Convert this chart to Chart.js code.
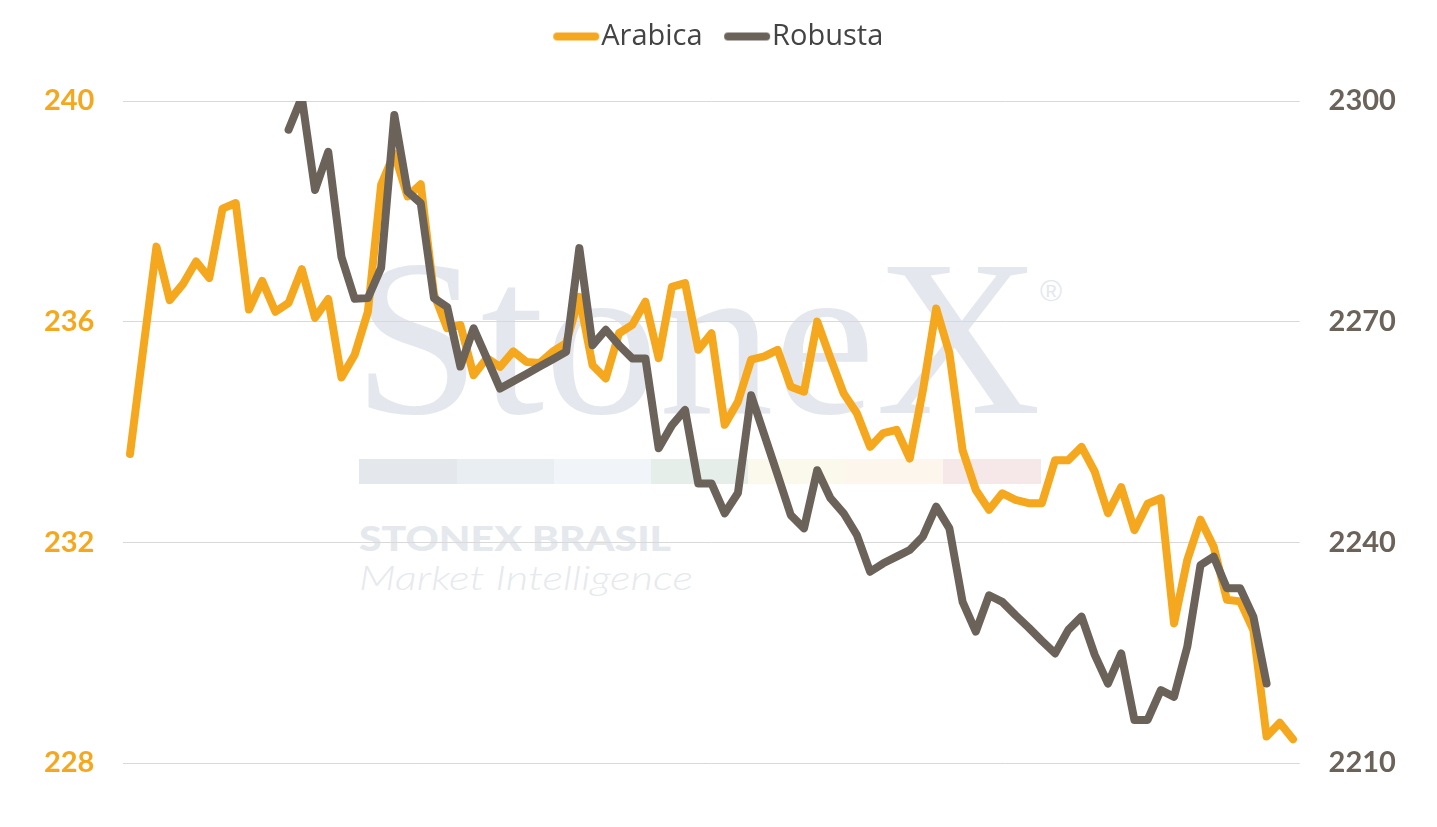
<!DOCTYPE html>
<html>
<head>
<meta charset="utf-8">
<script src="https://cdn.jsdelivr.net/npm/chart.js@4.4.1/dist/chart.umd.min.js"></script>
<style>
  html, body { margin: 0; padding: 0; background: #ffffff; }
  #wrap { position: relative; width: 1437px; height: 827px; overflow: hidden; }
  #wm { position: absolute; left: 0; top: 0; }
  #c { position: absolute; left: 0; top: 0; }
</style>
</head>
<body>
<div id="wrap">
  <svg id="wm" width="1437" height="827" xmlns="http://www.w3.org/2000/svg">
    <text x="353" y="413" font-family="Liberation Serif, serif" font-size="222" fill="#e4e8ee" textLength="688" lengthAdjust="spacingAndGlyphs">StoneX</text>
    <text x="1040" y="301" font-family="Liberation Sans, sans-serif" font-size="30" fill="#e4e8ee">®</text>
    <rect x="359" y="459" width="98" height="25" fill="#e4e8ed"/>
    <rect x="457" y="459" width="97" height="25" fill="#e9eef2"/>
    <rect x="554" y="459" width="97" height="25" fill="#f1f5f9"/>
    <rect x="651" y="459" width="97" height="25" fill="#e6eee9"/>
    <rect x="748" y="459" width="97" height="25" fill="#fbf8ec"/>
    <rect x="845" y="459" width="98" height="25" fill="#fdf6ec"/>
    <rect x="943" y="459" width="98" height="25" fill="#f6e8e9"/>
    <text x="359" y="551" font-family="Lato, sans-serif" font-weight="900" font-size="34" fill="#e5e8ed" textLength="312" lengthAdjust="spacingAndGlyphs">STONEX BRASIL</text>
    <text x="359" y="590" font-family="Lato, sans-serif" font-weight="300" font-style="italic" font-size="33" fill="#e6e9ee" textLength="334" lengthAdjust="spacingAndGlyphs">Market Intelligence</text>
  </svg>
  <canvas id="c" width="1437" height="827"></canvas>
</div>
<script>
// ---- data ----
const days = ["1","2","3","4","5","6","7","8","9","10","11","12","13","14","15","16","17","18","19","20",
  "21","22","23","24","25","26","27","28","29","30","31","32","33","34","35","36","37","38","39","40",
  "41","42","43","44","45","46","47","48","49","50","51","52","53","54","55","56","57","58","59","60",
  "61","62","63","64","65","66","67","68","69","70","71","72","73","74","75","76","77","78","79","80",
  "81","82","83","84","85","86","87","88","89"];

const arabica = [233.6, 235.5, 237.36, 236.39, 236.68, 237.09, 236.79, 238.05, 238.15, 236.22,
  236.74, 236.18, 236.34, 236.95, 236.07, 236.41, 234.99, 235.40, 236.18, 238.48,
  239.05, 238.27, 238.49, 236.5, 235.88, 235.94, 235.03, 235.34, 235.18, 235.46,
  235.27, 235.25, 235.46, 235.61, 236.45, 235.21, 234.97, 235.79, 235.94, 236.36,
  235.34, 236.63, 236.70, 235.49, 235.79, 234.13, 234.55, 235.31, 235.37, 235.49,
  234.82, 234.73, 236.0, 235.34, 234.70, 234.34, 233.73, 233.98, 234.04, 233.52,
  234.76, 236.24, 235.43, 233.67, 232.95, 232.59, 232.89, 232.77, 232.71, 232.71,
  233.49, 233.49, 233.73, 233.28, 232.53, 233.0, 232.22, 232.70, 232.80, 230.53,
  231.68, 232.41, 231.92, 230.96, 230.93, 230.41, 228.48, 228.73, 228.43];

const robusta = [null, null, null, null, null, null, null, null, null, null,
  null, null, 2296.1, 2300.5, 2287.9, 2293.1, 2278.8, 2273.1, 2273.2, 2277.3,
  2298.1, 2287.7, 2286.1, 2273.2, 2272.0, 2263.9, 2269.1, 2265.0, 2260.9, 2261.9,
  2262.9, 2263.9, 2264.9, 2265.9, 2280.0, 2266.8, 2268.9, 2266.8, 2265.0, 2265.0,
  2252.8, 2255.9, 2258.0, 2248.0, 2248.0, 2243.95, 2246.7, 2260.0, 2254.6, 2249.2,
  2243.7, 2241.9, 2249.8, 2246.0, 2243.95, 2241.0, 2236.0, 2237.15, 2238.05, 2238.96,
  2240.8, 2244.85, 2241.9, 2231.9, 2227.85, 2232.8, 2231.9, 2230.1, 2228.4, 2226.6,
  2224.9, 2228.1, 2229.9, 2224.7, 2220.8, 2224.9, 2215.85, 2215.85, 2219.9, 2219.0,
  2225.8, 2236.9, 2238.05, 2233.75, 2233.75, 2229.9, 2220.8, null, null];

const seriesNames = ["Arabica", "Robusta"];
const seriesColors = ["#F5A81D", "#6B635A"];
const leftTicks = [228, 232, 236, 240];
const rightTicks = [2210, 2240, 2270, 2300];

// ---- legend line samples ----
function makeSample(color) {
  const c = document.createElement('canvas');
  c.width = 60; c.height = 12;
  const g = c.getContext('2d');
  g.strokeStyle = color; g.lineWidth = 8; g.lineCap = 'round';
  g.beginPath(); g.moveTo(17, 6); g.lineTo(55, 6); g.stroke();
  return c;
}
const samples = seriesColors.map(makeSample);

const legendGap = {
  id: 'legendGap',
  afterInit(chart) {
    const l = chart.legend;
    const f = l.fit;
    l.fit = function () { f.call(this); this.height = 101; };
  }
};

new Chart(document.getElementById('c'), {
  type: 'line',
  data: {
    labels: days,
    datasets: [
      {
        label: seriesNames[0], data: arabica, yAxisID: 'y', order: 1,
        borderColor: seriesColors[0], backgroundColor: seriesColors[0],
        borderWidth: 8, borderJoinStyle: 'round', borderCapStyle: 'round',
        pointRadius: 0, tension: 0, clip: 0
      },
      {
        label: seriesNames[1], data: robusta, yAxisID: 'y1', order: 0,
        borderColor: seriesColors[1], backgroundColor: seriesColors[1],
        borderWidth: 8, borderJoinStyle: 'round', borderCapStyle: 'round',
        pointRadius: 0, tension: 0, clip: 0, spanGaps: false
      }
    ]
  },
  options: {
    responsive: false,
    animation: false,
    devicePixelRatio: 1,
    layout: { padding: { top: 0, bottom: 64, left: 0, right: 0 } },
    plugins: {
      tooltip: { enabled: false },
      legend: {
        position: 'top',
        labels: {
          usePointStyle: true,
          pointStyleWidth: 33,
          padding: 22,
          color: '#444444',
          font: { family: 'Open Sans', size: 29, weight: '400' },
          sort: (a, b) => a.datasetIndex - b.datasetIndex,
          generateLabels: (chart) => Chart.defaults.plugins.legend.labels.generateLabels(chart)
            .map(it => Object.assign(it, { pointStyle: samples[it.datasetIndex] }))
        }
      }
    },
    scales: {
      x: {
        type: 'category',
        display: false,
        offset: true,
        grid: { display: false }
      },
      y: {
        position: 'left',
        min: leftTicks[0], max: leftTicks[leftTicks.length - 1],
        afterBuildTicks: (s) => { s.ticks = leftTicks.map(v => ({ value: v })); },
        afterFit: (s) => { s.width = 123.4; },
        border: { display: false },
        grid: { color: '#d9d9d9', lineWidth: 1, drawTicks: false },
        ticks: {
          padding: 29,
          color: seriesColors[0],
          font: { family: 'Lato', size: 29, weight: 'bold' },
          callback: (v) => String(v)
        }
      },
      y1: {
        position: 'right',
        min: rightTicks[0], max: rightTicks[rightTicks.length - 1],
        afterBuildTicks: (s) => { s.ticks = rightTicks.map(v => ({ value: v })); },
        afterFit: (s) => { s.width = 137.4; },
        border: { display: false },
        grid: { display: false, drawTicks: false },
        ticks: {
          padding: 29,
          color: seriesColors[1],
          font: { family: 'Lato', size: 29, weight: 'bold' },
          callback: (v) => String(v)
        }
      }
    }
  },
  plugins: [legendGap]
});
</script>
</body>
</html>
